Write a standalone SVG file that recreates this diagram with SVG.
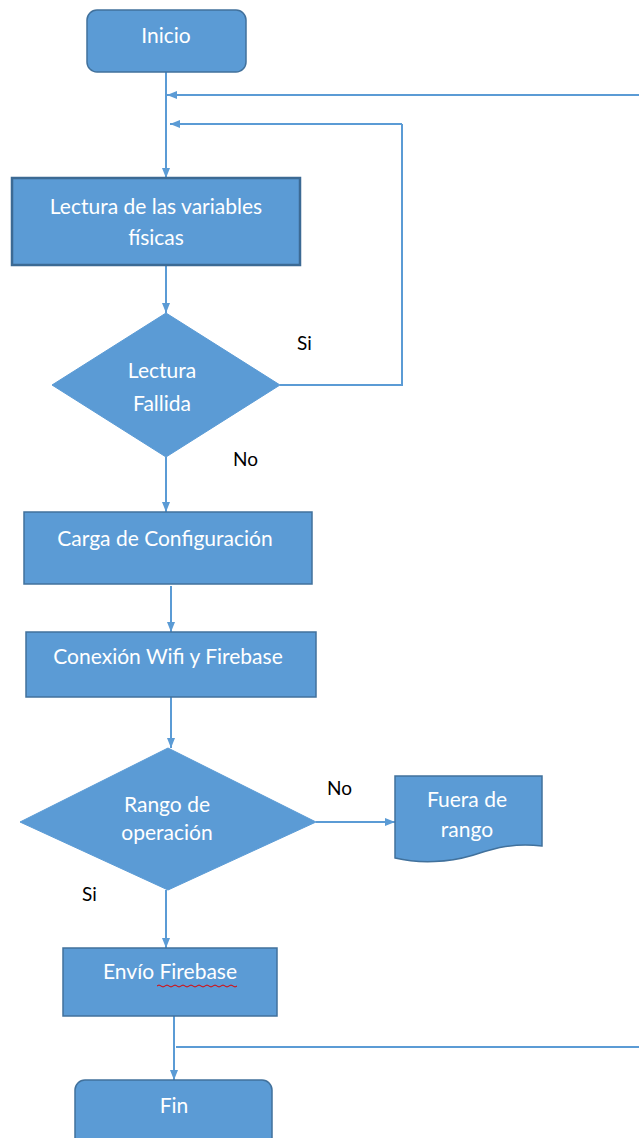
<svg xmlns="http://www.w3.org/2000/svg" width="639" height="1138" viewBox="0 0 639 1138">
<defs>
<style>
.n{fill:#5B9BD5;stroke:#41719C;stroke-width:1.5}
.d{fill:#5B9BD5;stroke:#5B9BD5;stroke-width:1}
.t{fill:#fff;font-family:Lato,"Liberation Sans",sans-serif;font-size:21px;text-anchor:middle}
.l{fill:#000;font-family:Lato,"Liberation Sans",sans-serif;font-size:19px}
.c{fill:none;stroke:#5B9BD5;stroke-width:2}
</style>
<marker id="a" viewBox="0 0 10 10" refX="10" refY="5" markerWidth="10" markerHeight="10" orient="auto" markerUnits="userSpaceOnUse">
<path d="M0,1 L10,5 L0,9 z" fill="#5B9BD5"/>
</marker>
</defs>
<rect width="639" height="1138" fill="#fff"/>
<g id="connectors">
<path class="c" d="M166,72 V178" marker-end="url(#a)"/>
<path class="c" d="M639,95 H167" marker-end="url(#a)"/>
<path class="c" d="M402,124 H170" marker-end="url(#a)"/>
<path class="c" d="M280,385 H402 V124"/>
<path class="c" d="M166,265 V313" marker-end="url(#a)"/>
<path class="c" d="M166,457 V512" marker-end="url(#a)"/>
<path class="c" d="M171,586 V632" marker-end="url(#a)"/>
<path class="c" d="M171,697 V748" marker-end="url(#a)"/>
<path class="c" d="M316,822 H395" marker-end="url(#a)"/>
<path class="c" d="M166,890 V948" marker-end="url(#a)"/>
<path class="c" d="M174,1016 V1080" marker-end="url(#a)"/>
<path class="c" d="M176,1047 H639"/>
</g>
<g id="inicio">
<rect class="n" x="87" y="10" width="159" height="62" rx="10"/>
<text class="t" x="166" y="43">Inicio</text>
</g>
<g id="lectura">
<rect class="n" x="12" y="178" width="288" height="87" style="stroke:#3C6A94;stroke-width:2.5"/>
<text class="t" x="156" y="214">Lectura de las variables</text>
<text class="t" x="156" y="245">físicas</text>
</g>
<g id="fallida">
<polygon class="d" points="166,313 280,385 166,457 52,385"/>
<text class="t" x="162" y="378">Lectura</text>
<text class="t" x="162" y="411">Fallida</text>
</g>
<text class="l" x="297" y="350">Si</text>
<text class="l" x="233" y="466">No</text>
<g id="carga">
<rect class="n" x="24" y="512" width="288" height="72"/>
<text class="t" x="165" y="546">Carga de Configuración</text>
</g>
<g id="conexion">
<rect class="n" x="26" y="632" width="290" height="65"/>
<text class="t" x="168" y="664">Conexión Wifi y Firebase</text>
</g>
<g id="rango">
<polygon class="d" points="168,748 316,822 168,890 20,822"/>
<text class="t" x="167" y="812">Rango de</text>
<text class="t" x="167" y="840">operación</text>
</g>
<text class="l" x="327" y="795">No</text>
<text class="l" x="82" y="901">Si</text>
<g id="fuera">
<path class="n" d="M395,776 H542 V846 C510,842 490,850 470,856 C450,862 420,864 395,858 Z"/>
<text class="t" x="467" y="807">Fuera de</text>
<text class="t" x="467" y="837">rango</text>
</g>
<g id="envio">
<rect class="n" x="63" y="948" width="214" height="68"/>
<text class="t" x="170" y="979">Envío Firebase</text>
<path d="M157,986 q2,-2 4,0 t4,0 t4,0 t4,0 t4,0 t4,0 t4,0 t4,0 t4,0 t4,0 t4,0 t4,0 t4,0 t4,0 t4,0 t4,0 t4,0 t4,0 t4,0 t4,0" fill="none" stroke="#E00000" stroke-width="1"/>
</g>
<g id="fin">
<rect class="n" x="75" y="1080" width="197" height="70" rx="10"/>
<text class="t" x="174" y="1113">Fin</text>
</g>
</svg>
